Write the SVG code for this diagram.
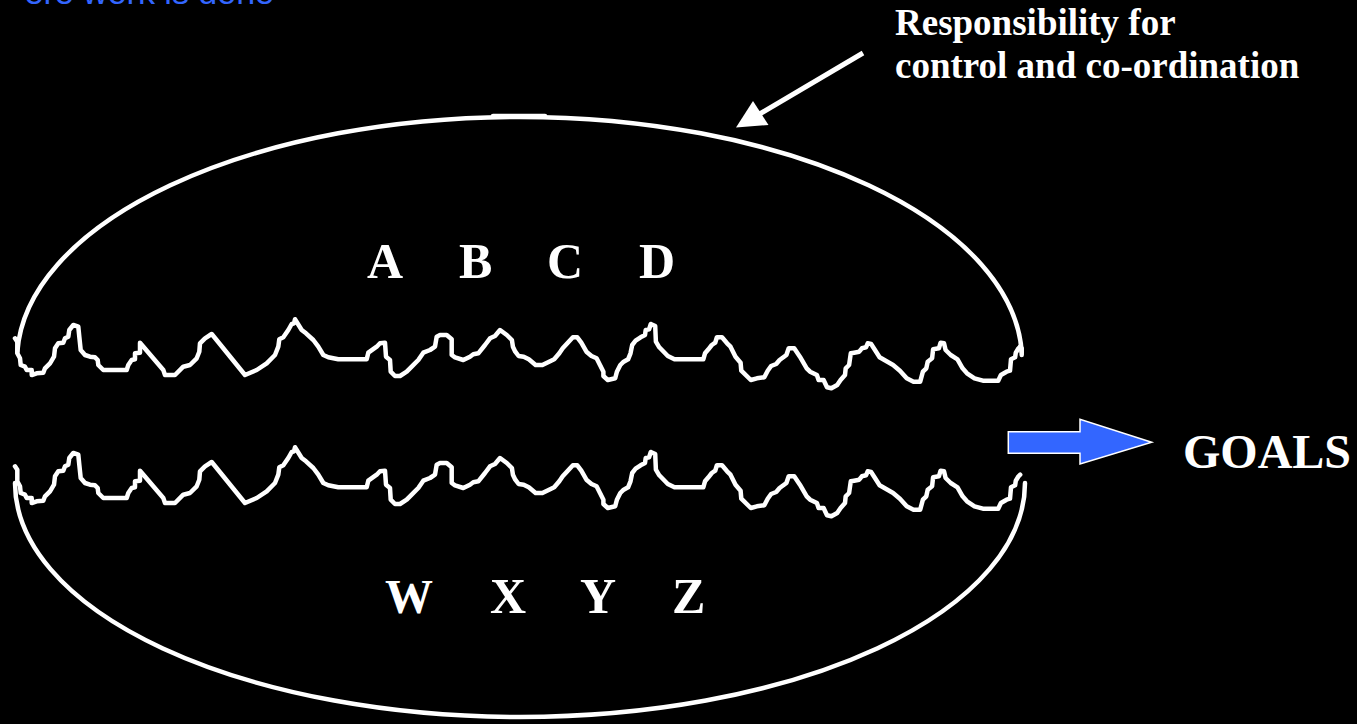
<svg xmlns="http://www.w3.org/2000/svg" xmlns:xlink="http://www.w3.org/1999/xlink" width="1357" height="724" viewBox="0 0 1357 724">
  <style>
    .outline { fill: none; stroke: #ffffff; stroke-width: 4.5; stroke-linejoin: round; stroke-linecap: round; }
    .label { font-family: "Liberation Serif", "Times New Roman", serif; font-weight: bold; fill: #ffffff; }
    .big { font-size: 50px; }
    .note { font-size: 37px; }
    .caption { font-family: "Liberation Sans", Arial, sans-serif; font-size: 34px; fill: #3366ff; }
  </style>
  <defs>
    <!-- torn edge shared by the upper and lower halves -->
    <path id="tear" d="M15,338.3 L17.3,341.7 L17.3,353.3 L20,358.3 L20.7,365 L25,366.7 L26.7,370 L31.7,370 L31.7,375 L36.7,373.3 L43.3,372.7 L45,368.3 L50,363.3 L54,356.7 L55,348.3 L58.3,343.3 L63.3,342.7 L65,338.3 L68.3,336.7 L69.3,330 L73.3,325 L78.3,326.7 L79.3,336.7 L80.7,350 L85,355 L90,356.7 L95,357.3 L97.7,360 L98.3,365 L103.3,370 L126.7,370 L128.3,365 L131.7,360 L135,359.3 L135,353.3 L140,352.7 L140,342.7 L163.3,370 L165,375 L175,375 L183.3,366.7 L190,365 L196.7,358.3 L199.3,351.7 L200,343.3 L205,338.3 L211.7,334 L245,375 L256.7,370 L266.7,363.3 L275,355 L278.3,346.7 L279.3,339.3 L283.3,337.3 L288.3,330 L291.7,324 L294,323.3 L295,319.3 L301.7,330 L306,333.3 L313.3,340 L318.3,346.7 L323.3,355 L328.3,357.3 L333.3,358.3 L338.3,359.3 L366.7,359.3 L368.3,352.7 L376.7,346.7 L380,343.3 L385,342.7 L386,356.7 L390,360 L390.7,371.7 L395,376 L400,376 L406.7,371.7 L411.7,366.7 L418.3,360 L423.3,352.7 L430,350 L435,346.7 L436.7,336.7 L440,335 L446.7,335 L451.7,339.3 L451.7,355 L455,357.3 L463.3,360 L470,356.7 L473.3,354.3 L478.3,353.3 L485,345 L490,338.3 L495,336 L500,330 L506.8,335 L511.9,340 L512.9,346.7 L515.3,351.7 L518.6,356 L523.7,356.7 L528.8,359.3 L535.6,365 L542.4,365 L549.1,361.7 L554.2,359.3 L559.3,353.3 L562.7,348.3 L567.8,342.7 L572.9,337.3 L577.3,337.3 L581.3,342.7 L586.4,351.7 L591.5,356 L596.6,358.3 L600,365 L603.4,371.7 L603.4,376 L607.8,380 L615.2,378.3 L616.9,371.7 L620.3,365 L623.7,361.7 L628.1,359.3 L630.5,353.3 L632.2,345 L635.6,340.7 L640.6,337.3 L645,335 L645.7,330 L649.1,329.3 L650.8,324 L655.2,326 L655.9,341.7 L659.3,347.3 L667.8,356 L674.5,359.3 L703.3,359.3 L705,353.3 L708.4,349.3 L711.8,345 L715.2,342.7 L716.9,337.3 L722,337.3 L727.1,343.3 L730.5,346.7 L735.5,356.7 L740.6,362.7 L741.3,370.7 L750.8,380 L756.9,378.3 L764.3,377.3 L767.7,370.7 L771.1,366 L776.2,364 L779.6,360 L786.4,355 L788.7,348.3 L794.2,348.3 L799.9,356.7 L806.7,368.3 L810.1,371.7 L816.9,375 L818.6,380 L823.6,380 L827,387.3 L831.4,388.3 L837.2,385 L840.6,380 L845,375 L845.7,368.3 L849.1,365 L850.8,353.3 L854.1,352.7 L859.2,351.7 L861.9,348.3 L866,347.3 L867.7,343.3 L871.1,344 L874.5,349.3 L879.6,357.3 L893.1,365 L899.9,370.7 L906.7,378.3 L913.5,381.7 L920.2,381.7 L922.9,371.7 L926.3,368.3 L927.7,361.7 L932.1,358.3 L933.1,349.3 L938.9,348.3 L940.6,342.7 L944,343.3 L945.6,350 L950.7,355 L957.5,359.3 L962.6,368.3 L967,373.3 L974.5,378.3 L982.9,380.7 L998.2,380.7 L1000.9,375 L1006.6,371.7 L1010,370.7 L1011,359.3 L1015.1,357.3 L1015.8,352.7 L1018.5,348.3 L1020.2,346.7"/>
  </defs>

  <rect x="0" y="0" width="1357" height="724" fill="#000000"/>

  <!-- heading, cut off by the top edge -->
  <text class="caption" x="274" y="4" text-anchor="end">ere work is done</text>

  <!-- upper half: control and co-ordination -->
  <g id="upper-half">
    <path class="outline" d="M17.3,352 A502.5,243.5 0 0 1 1021.7,352"/>
    <path class="outline" d="M493,116 L545,116" stroke-width="3"/>
    <use href="#tear" xlink:href="#tear" class="outline"/>
    <path class="outline" d="M1020.2,346.7 L1021.7,348.3 L1021.7,355"/>
    <text class="label big" x="367" y="278">A</text>
    <text class="label big" x="459" y="278">B</text>
    <text class="label big" x="547" y="278">C</text>
    <text class="label big" x="639" y="278">D</text>
  </g>

  <!-- lower half: where the work is done -->
  <g id="lower-half">
    <path class="outline" d="M15,483 A505,234 0 0 0 1025,483"/>
    <use href="#tear" xlink:href="#tear" class="outline" transform="translate(0,128)"/>
    <text class="label big" x="385" y="613" style="font-size:48px">W</text>
    <text class="label big" x="490" y="613">X</text>
    <text class="label big" x="580" y="613">Y</text>
    <text class="label big" x="672" y="613">Z</text>
  </g>

  <!-- note on responsibility -->
  <g id="responsibility">
    <text class="label note" x="895" y="35">Responsibility for</text>
    <text class="label note" x="895" y="78">control and co-ordination</text>
  </g>

  <!-- goals -->
  <g id="goals">
    <text class="label" x="1183" y="468" style="font-size:48px">GOALS</text>
  </g>

  <g id="connectors">
    <!-- pointer to the upper outline -->
    <line x1="863" y1="53" x2="758" y2="115" stroke="#ffffff" stroke-width="5"/>
    <polygon points="736,127.5 753,101 768.5,125" fill="#ffffff"/>
    <!-- block arrow towards the goals -->
    <polygon points="1008.3,431.7 1080,431.7 1080,419.3 1151.7,442.3 1080,464 1080,453.3 1008.3,453.3" fill="#3366ff" stroke="#ffffff" stroke-width="1.5" stroke-linejoin="miter"/>
  </g>
</svg>
